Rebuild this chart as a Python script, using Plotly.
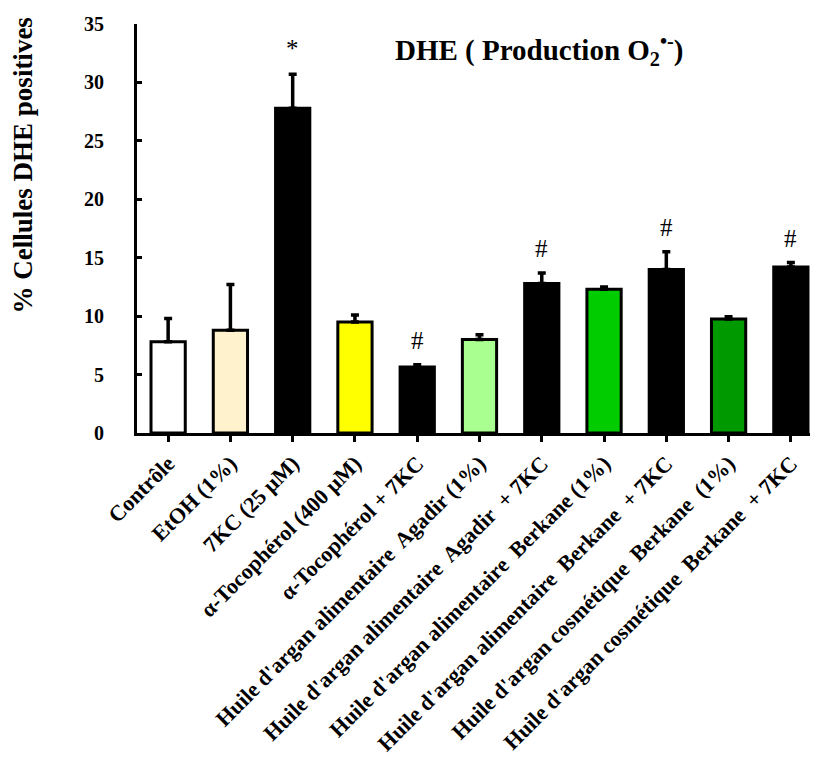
import plotly.graph_objects as go

categories = [
    "Contrôle",
    "EtOH (1%)",
    "7KC (25 µM)",
    "α-Tocophérol (400 µM)",
    "α-Tocophérol + 7KC",
    "Huile d'argan alimentaire\u00a0 Agadir (1%)",
    "Huile d'argan alimentaire\u00a0 Agadir\u00a0 + 7KC",
    "Huile d'argan alimentaire\u00a0 Berkane (1%)",
    "Huile d'argan alimentaire\u00a0 Berkane\u00a0 + 7KC",
    "Huile d'argan cosmétique\u00a0 Berkane\u00a0 (1%)",
    "Huile d'argan cosmétique\u00a0 Berkane\u00a0 + 7KC",
]
values = [7.8, 8.8, 27.8, 9.5, 5.65, 8.0, 12.8, 12.3, 14.0, 9.75, 14.2]
errors = [2.0, 3.9, 2.9, 0.6, 0.2, 0.4, 0.9, 0.2, 1.5, 0.2, 0.4]
colors = ["#FFFFFF", "#FFF2CC", "#000000", "#FFFF00", "#000000", "#A9FF8F",
          "#000000", "#00CC00", "#000000", "#009900", "#000000"]
marks = ["", "", "*", "", "#", "", "#", "", "#", "", "#"]

font_family = "Liberation Serif, Times New Roman, serif"
x = list(range(len(categories)))

fig = go.Figure()
fig.add_trace(go.Bar(
    x=x, y=values, width=0.55,
    marker=dict(color=colors, line=dict(color="black", width=3)),
    error_y=dict(type="data", array=errors, arrayminus=[0] * len(errors),
                 symmetric=False, color="black", thickness=3.5, width=4),
    showlegend=False,
))

for xi, v, e, m in zip(x, values, errors, marks):
    if m:
        fig.add_annotation(x=xi, y=v + e, text=m, showarrow=False,
                           yshift=24 if m == "#" else 26,
                           font=dict(family=font_family, size=25, color="black"))

fig.add_annotation(xref="paper", yref="paper", x=0.588, y=1.0, yshift=-4,
                   xanchor="center",
                   text="DHE ( Production O<sub>2</sub><sup>•-</sup>)", showarrow=False,
                   font=dict(family=font_family, size=29, color="black", weight="bold"))
fig.add_annotation(xref="paper", yref="paper", x=-0.166, y=0.655, textangle=-90,
                   xanchor="center", yanchor="middle",
                   text="% Cellules DHE positives", showarrow=False,
                   font=dict(family=font_family, size=27, color="black", weight="bold"))

fig.update_layout(
    width=818, height=764,
    margin=dict(l=129, r=4, t=16, b=339),
    plot_bgcolor="white", paper_bgcolor="white",
    font=dict(family=font_family, color="black"),
    xaxis=dict(
        range=[-0.5, 10.5], tickmode="array", tickvals=x, ticktext=categories,
        tickangle=-45, tickson="boundaries", ticks="outside", ticklen=6, tickwidth=3,
        tickcolor="black", showline=True, linecolor="black", linewidth=3,
        showgrid=False, zeroline=False, automargin=False,
        tickfont=dict(family=font_family, size=22, color="black", weight="bold"),
    ),
    yaxis=dict(
        range=[0, 35], tickvals=[0, 5, 10, 15, 20, 25, 30, 35],
        ticks="inside", ticklen=5, tickwidth=3, tickcolor="black",
        showline=True, linecolor="black", linewidth=3, showgrid=False, zeroline=False,
        ticklabelstandoff=26, automargin=False,
        tickfont=dict(family=font_family, size=20, color="black", weight="bold"),
    ),
    bargap=0.45,
)

fig.write_html("out.html")
